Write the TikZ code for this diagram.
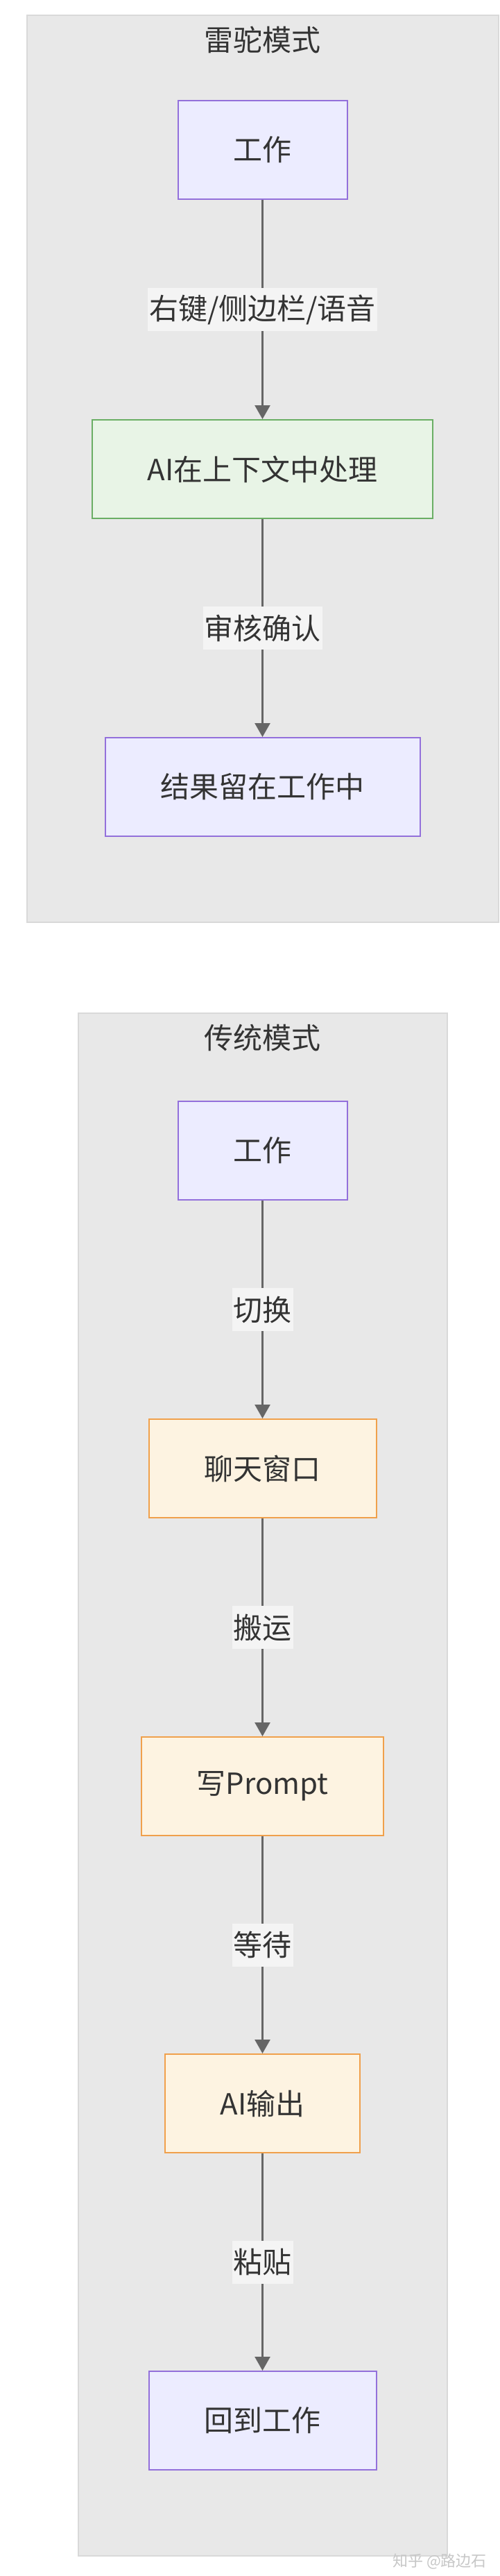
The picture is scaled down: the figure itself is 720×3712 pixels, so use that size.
\documentclass[tikz,border=0pt]{standalone}
\usepackage{fontspec}
\setmainfont{Noto Sans CJK SC}
\usepackage{tikz}
\usetikzlibrary{arrows.meta}
\newcommand{\LabelFont}{\fontsize{42}{50}\selectfont}
\newcommand{\MarkFont}{\fontsize{22}{26}\selectfont}
\definecolor{boxpurple}{HTML}{ECECFF}
\definecolor{linepurple}{HTML}{9370DB}
\definecolor{boxgreen}{HTML}{E8F4E6}
\definecolor{linegreen}{HTML}{6AAE64}
\definecolor{boxorange}{HTML}{FDF3E1}
\definecolor{lineorange}{HTML}{F0A04B}
\definecolor{groupfill}{HTML}{E8E8E8}
\definecolor{groupline}{HTML}{D9D9D9}
\definecolor{edgegray}{HTML}{666666}
\definecolor{textdark}{HTML}{333333}
\definecolor{labelfill}{HTML}{F4F4F4}
\tikzset{
  box/.style={rectangle, draw, line width=2pt, minimum height=142pt, inner xsep=80pt, text=textdark, font=\LabelFont},
  workbox/.style={box, fill=boxpurple, draw=linepurple},
  aibox/.style={box, fill=boxgreen, draw=linegreen},
  chatbox/.style={box, fill=boxorange, draw=lineorange},
  flow/.style={draw=edgegray, line width=2.6pt, -{Triangle[length=20pt,width=22pt]}},
  edgelabel/.style={fill=labelfill, inner xsep=2pt, inner ysep=0pt, minimum height=62pt, text=textdark, font=\LabelFont},
  group/.style={fill=groupfill, draw=groupline, line width=2pt},
  grouptitle/.style={text=textdark, font=\LabelFont}
}

\begin{document}
\begin{tikzpicture}[x=1pt, y=-1pt]
        \useasboundingbox (0,0) rectangle (720,3712);
        \fill[white] (0,0) rectangle (720,3712);
        % group boxes
        \draw[group] (38.5,22) rectangle (718.5,1329);
        \draw[group] (113,1460) rectangle (644.5,3683);
        \node[grouptitle] (titleA) at (378.5,57) {雷驼模式};
        \node[grouptitle] (titleB) at (378.5,1495) {传统模式};
        % first mode
        \node[workbox] (a1) at (378.5,216) {工作};
        \node[aibox] (a2) at (378.5,676) {AI在上下文中处理};
        \node[workbox] (a3) at (378.5,1134) {结果留在工作中};
        \draw[flow] (a1) -- node[edgelabel] {右键/侧边栏/语音} (a2);
        \draw[flow] (a2) -- node[edgelabel] {审核确认} (a3);
        % second mode
        \foreach \name/\ypos/\kind/\txt in
        {c1/1658/workbox/工作, c2/2116/chatbox/聊天窗口, c3/2574/chatbox/写Prompt, c4/3031/chatbox/AI输出, c5/3488/workbox/回到工作}
        \node[\kind] (\name) at (378.5,\ypos) {\txt};
        \foreach \from/\to/\txt in
        {c1/c2/切换, c2/c3/搬运, c3/c4/等待, c4/c5/粘贴}
        \draw[flow] (\from) -- node[edgelabel] {\txt} (\to);
        % watermark
        \node[text=black!22, font=\MarkFont] (mark) at (634,3691) {知乎 @路边石};
    \end{tikzpicture}
\end{document}
